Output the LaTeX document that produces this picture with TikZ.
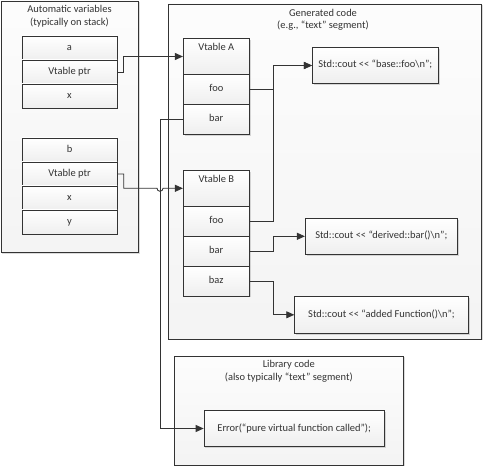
\documentclass[tikz,border=0pt]{standalone}
\usepackage{fontspec}
\setmainfont{Carlito}
\usetikzlibrary{arrows.meta,calc,shadows}
\definecolor{ln}{HTML}{333333}
\definecolor{tx}{HTML}{333333}
\begin{document}
\begin{tikzpicture}[x=1bp,y=-1bp,
  font=\fontsize{10.5}{12.7}\selectfont, text=tx,
  shad/.style={drop shadow={shadow xshift=1.3bp,shadow yshift=-1.3bp,fill=black,opacity=0.14}},
  container/.style={draw=ln, line width=0.8bp, top color=gray!2, bottom color=gray!9, shad, inner sep=0pt},
  cell/.style={draw=ln, line width=0.8bp, top color=white, bottom color=gray!13, shad,
    minimum width=95bp, minimum height=24bp, inner sep=0pt, text height=7.3bp, text depth=2.3bp},
  vt/.style={cell, minimum width=66bp},
  outbox/.style={cell},
  title/.style={align=center, inner sep=0pt},
  conn/.style={draw=ln, line width=0.85bp, -{Triangle[length=8bp,width=7bp]}},
  plain/.style={draw=ln, line width=0.8bp}]
\useasboundingbox (0,0) rectangle (483,467);

% containers
\node[container, minimum width=137.5bp, minimum height=251.7bp] (auto) at (69.75,126.85) {};
\node[container, minimum width=313.4bp, minimum height=335bp] (gen) at (325,171.5) {};
\node[container, minimum width=229bp, minimum height=109bp] (lib) at (288.8,410.5) {};

\node[title] (autoT) at (69.5,16) {Automatic variables\\(typically on stack)};
\node[title] (genT) at (323,19.7) {Generated code\\(e.g., “text” segment)};
\node[title] (libT) at (288.8,371.2) {Library code\\(also typically “text” segment)};

% object a
\node[cell] (aT) at (69.5,48) {a};
\node[cell] (aP) at (69.5,72) {Vtable ptr};
\node[cell] (aX) at (69.5,96) {x};
% object b
\node[cell] (bT) at (69.5,150) {b};
\node[cell] (bP) at (69.5,174) {Vtable ptr};
\node[cell] (bX) at (69.5,198) {x};
\node[cell] (bY) at (69.5,222) {y};

% vtable A
\node[vt, minimum height=36.4bp] (hA) at (216.3,56.5) {};
\node[inner sep=0pt] (hAt) at (216.3,46.7) {Vtable A};
\node[vt, minimum height=29.6bp] (fooA) at (216.3,89.5) {foo};
\node[vt, minimum height=30bp] (barA) at (216.3,119.3) {bar};
% vtable B
\node[vt, minimum height=36bp] (hB) at (216.3,188.3) {};
\node[inner sep=0pt] (hBt) at (216.3,178.9) {Vtable B};
\node[vt, minimum height=30bp] (fooB) at (216.3,221.3) {foo};
\node[vt, minimum height=30bp] (barB) at (216.3,251.3) {bar};
\node[vt, minimum height=29.7bp] (baz) at (216.3,281.2) {baz};

% code boxes
\node[outbox, minimum width=126bp, minimum height=35.6bp] (o1) at (375.3,65.5) {Std::cout <\kern0pt< “base::foo\textbackslash n”;};
\node[outbox, minimum width=152bp, minimum height=36bp] (o2) at (381.3,236.3) {Std::cout <\kern0pt< “derived::bar()\textbackslash n”;};
\node[outbox, minimum width=173.6bp, minimum height=37bp] (o3) at (381.5,314.8) {Std::cout <\kern0pt< “added Function()\textbackslash n”;};
\node[outbox, minimum width=180.3bp, minimum height=36.4bp] (err) at (294.2,428.5) {Error(“pure virtual function called”);};

\coordinate (busx) at (160,0);

% connectors
\draw[conn] (aP.east) -- ++(6.3,0) |- (hA.west);
\draw[conn] (bP.east) -- ++(6.3,0) |- ($(busx |- hB.west)+(-3,0)$)
   arc[start angle=180,end angle=360,radius=3bp] -- (hB.west);
\draw[conn] (barA.west) -- (busx |- barA.west) |- (err.west);
\draw[conn] (fooA.east) -- ++(24,0) |- (o1.west);
\draw[conn] (fooB.east) -- ++(24,0) |- (o1.west);
\draw[conn] (barB.east) -- ++(24,0) |- (o2.west);
\draw[conn] (baz.east) -- ++(24,0) |- (o3.west);
\end{tikzpicture}
\end{document}
